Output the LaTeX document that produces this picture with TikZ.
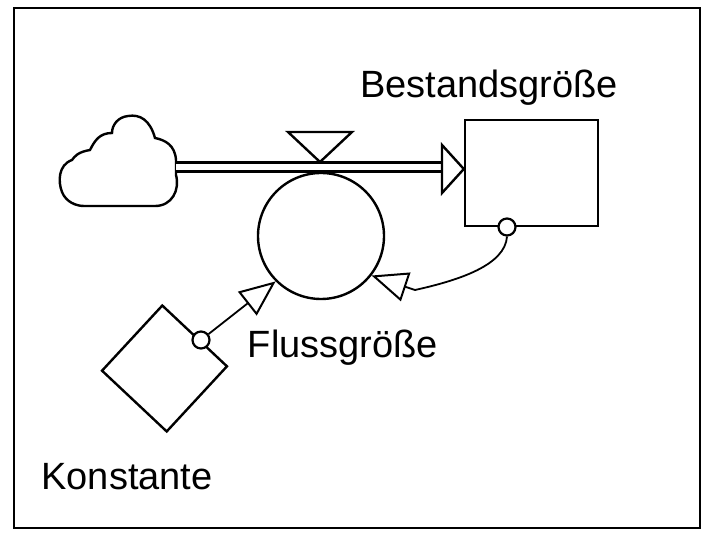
\documentclass[tikz,border=0pt]{standalone}
\usepackage{fontspec}
\setmainfont{Liberation Sans}
\usetikzlibrary{arrows.meta,shapes.geometric}
\begin{document}
\begin{tikzpicture}[x=1pt,y=-1pt,line width=2.4pt,
  lbl/.style={font=\fontsize{38}{42}\selectfont},
  openhead/.style={-{Triangle[open,length=36pt,width=30pt,line width=2pt]}},
  dot/.style={circle,draw,inner sep=0pt,minimum size=17pt,line width=2.2pt}]
\useasboundingbox (0,0) rectangle (720,537);
\draw[line width=1.6pt] (14,8) rectangle (700,528);
% cloud
\draw (84,206) -- (155,206) .. controls (172,206) and (180,190) .. (176,175)
  -- (176,160) .. controls (175,145) and (165,140) .. (155,138)
  .. controls (150,120) and (140,114) .. (128,116)
  .. controls (118,117) and (112,125) .. (112,133)
  .. controls (100,133) and (95,140) .. (90,150)
  .. controls (78,152) and (75,156) .. (72,160)
  .. controls (58,165) and (58,182) .. (62,192)
  .. controls (66,202) and (76,206) .. (84,206) -- cycle;
\coordinate (src) at (176,167);
\node[draw,minimum width=133pt,minimum height=106pt,inner sep=0pt] (stock) at (531.5,173) {};
\coordinate (tipin) at (442,167);
\draw[double distance=6pt,line width=2.6pt] (src) -- (tipin);
\draw[fill=white] (442,145) -- (stock.west |- 0,169) -- (442,193) -- cycle;
% valve
\draw (288,132) -- (352,132) -- (320,162) -- cycle;
\node[circle,draw,minimum size=126pt,inner sep=0pt] (flow) at (321,236) {};
% constant
\node[diamond,draw,minimum width=126pt,minimum height=127pt,inner sep=0pt,rotate=2] (const) at (164.5,368.5) {};
\node[dot,fill=white] (c1) at (201,340) {};
\node[dot,fill=white] (c2) at (507,227) {};
\draw[openhead,line width=1.8pt] (c1) -- (flow.225);
\draw[openhead,line width=1.8pt] (c2.south) .. controls (505,265) and (460,280) .. (415,290) -- (flow.-38);
\node[lbl] (lstock) at (489,88) {Bestandsgröße};
\node[lbl] (lflow) at (343,348) {Flussgröße};
\node[lbl] (lconst) at (127,477) {Konstante};
\end{tikzpicture}
\end{document}
